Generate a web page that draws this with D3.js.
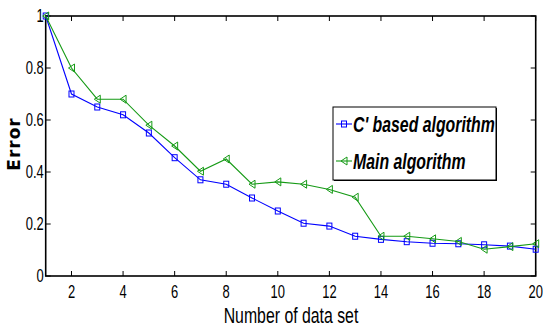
<!DOCTYPE html>
<html><head><meta charset="utf-8">
<script src="https://cdn.jsdelivr.net/npm/d3@7"></script>
<style>
html,body{margin:0;padding:0;background:#fff;}
text{font-family:"Liberation Sans Narrow","Liberation Sans",Arial,sans-serif;}
</style></head>
<body>
<svg id="chart" width="543" height="330"></svg>
<script>
const xValues = [1,2,3,4,5,6,7,8,9,10,11,12,13,14,15,16,17,18,19,20];
const cBased = [1.0,0.70,0.65,0.62,0.55,0.455,0.37,0.353,0.30,0.25,0.203,0.192,0.153,0.141,0.132,0.126,0.124,0.12,0.115,0.103];
const mainAlg = [1.0,0.80,0.68,0.68,0.58,0.50,0.403,0.45,0.353,0.362,0.353,0.333,0.303,0.153,0.153,0.143,0.133,0.103,0.113,0.124];
const xTicks = [2,4,6,8,10,12,14,16,18,20];
const yTicks = [0,0.2,0.4,0.6,0.8,1];
const seriesNames = ["C' based algorithm","Main algorithm"];
const seriesColors = ["#0000ff","#159a15"];

const svg = d3.select("#chart");
const L=45.7, R=535.7, T=16, B=276;
const x = d3.scaleLinear().domain([1,20]).range([L,R]);
const y = d3.scaleLinear().domain([0,1]).range([B,T]);
const NS = 0.72; // narrow horizontal scale

function ntext(sel,px,py,str,size,anchor){
  return sel.append("text").attr("transform",`translate(${px},${py}) scale(${NS},1)`)
    .attr("text-anchor",anchor||"start").attr("font-size",size).text(str);
}

const g = svg.append("g");
g.append("rect").attr("x",L).attr("y",T).attr("width",R-L).attr("height",B-T)
  .attr("fill","none").attr("stroke","#000").attr("stroke-width",1.6);

const tl=5;
xTicks.forEach(t=>{
  g.append("line").attr("x1",x(t)).attr("x2",x(t)).attr("y1",B).attr("y2",B-tl).attr("stroke","#000").attr("stroke-width",1);
  g.append("line").attr("x1",x(t)).attr("x2",x(t)).attr("y1",T).attr("y2",T+tl).attr("stroke","#000").attr("stroke-width",1);
  ntext(g,x(t),B+22,d3.format("d")(t),18,"middle");
});
yTicks.forEach(t=>{
  g.append("line").attr("x1",L).attr("x2",L+tl).attr("y1",y(t)).attr("y2",y(t)).attr("stroke","#000").attr("stroke-width",1);
  g.append("line").attr("x1",R).attr("x2",R-tl).attr("y1",y(t)).attr("y2",y(t)).attr("stroke","#000").attr("stroke-width",1);
  ntext(g,L-2,y(t)+6,(t===0||t===1)?d3.format("d")(t):d3.format(".1f")(t),18,"end");
});

ntext(svg,291,323,"Number of data set",22,"middle");
svg.append("text").attr("transform","translate(20,144) rotate(-90)").attr("text-anchor","middle")
  .style("font-family","'DejaVu Sans',sans-serif").attr("font-weight","bold").attr("font-size",17)
  .attr("letter-spacing",1).text("Error");

const line = d3.line().x((d,i)=>x(xValues[i])).y(d=>y(d));

function square(sel,cx,cy,color){
  sel.append("rect").attr("x",cx-2.5).attr("y",cy-3).attr("width",5).attr("height",6)
    .attr("fill","none").attr("stroke",color).attr("stroke-width",1);
}
function triLeft(sel,cx,cy,color){
  sel.append("path").attr("d",`M${cx-3},${cy} L${cx+3},${cy-4} L${cx+3},${cy+4} Z`)
    .attr("fill","none").attr("stroke",color).attr("stroke-width",1);
}

const series=[cBased,mainAlg];
const markers=[square,triLeft];
[0,1].forEach(k=>{
  svg.append("path").datum(series[k]).attr("d",line).attr("fill","none")
    .attr("stroke",seriesColors[k]).attr("stroke-width",1.1);
  const mg=svg.append("g");
  series[k].forEach((v,i)=>markers[k](mg,x(xValues[i]),y(v),seriesColors[k]));
});

const lg=svg.append("g");
const lx=333, ly=107, lw=163, lh=73;
lg.append("rect").attr("x",lx+1).attr("y",ly+1).attr("width",lw).attr("height",lh).attr("fill","#000");
lg.append("rect").attr("x",lx).attr("y",ly).attr("width",lw).attr("height",lh)
  .attr("fill","#fff").attr("stroke","#000").attr("stroke-width",1);
const rows=[124,161];
seriesNames.forEach((n,k)=>{
  lg.append("line").attr("x1",lx+3).attr("x2",lx+19).attr("y1",rows[k]).attr("y2",rows[k])
    .attr("stroke",seriesColors[k]).attr("stroke-width",1.1);
  markers[k](lg,lx+11,rows[k],seriesColors[k]);
  ntext(lg,lx+20,rows[k]+8,n,22).attr("font-weight","bold").attr("font-style","italic");
});
</script>
</body></html>
